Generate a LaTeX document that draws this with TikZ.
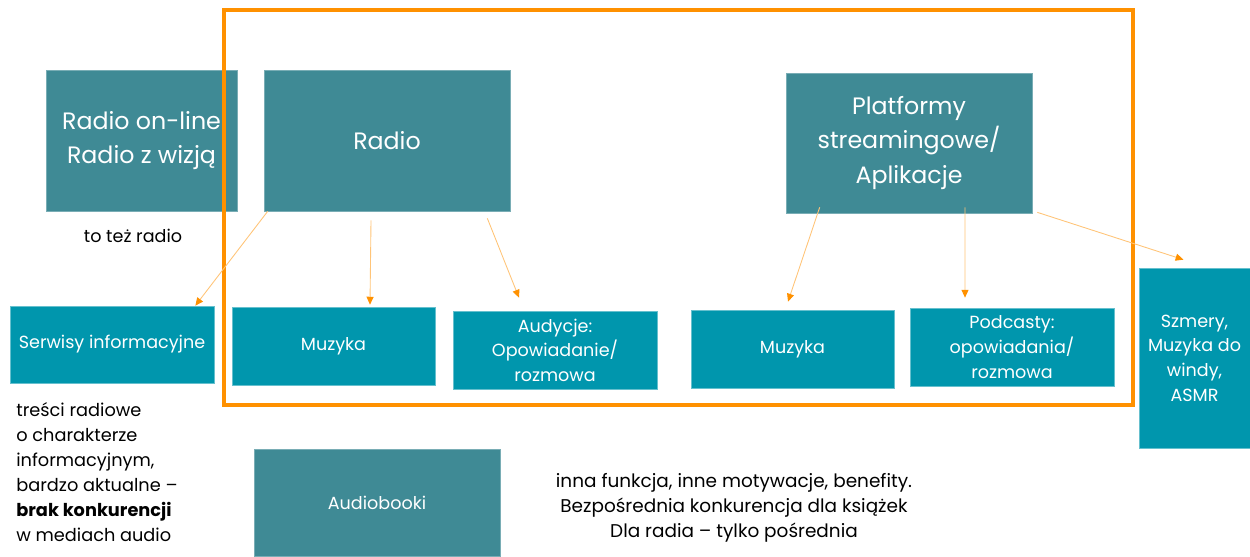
\documentclass[tikz,border=0pt]{standalone}
\usepackage{fontspec}
\setmainfont{Poppins}
\usepackage{tikz}
\usetikzlibrary{arrows.meta,positioning}
\definecolor{boxteal}{RGB}{63,138,149}
\definecolor{boxcyan}{RGB}{0,150,173}
\definecolor{frameorange}{RGB}{255,145,0}
\definecolor{arrlight}{RGB}{255,196,120}

\begin{document}
\begin{tikzpicture}[
      x=0.02cm, y=-0.02cm,
      topbox/.style={fill=boxteal, draw=boxteal!70!white, line width=0.4pt, text=white, align=center, font=\fontsize{13.5}{19.5}\selectfont, inner sep=2pt},
      subbox/.style={fill=boxcyan, draw=boxcyan!60!white, line width=0.4pt, text=white, align=center, font=\fontsize{10}{14}\selectfont, inner sep=2pt},
      note/.style={text=black, inner sep=0pt, font=\fontsize{10.1}{14.3}\selectfont},
      arr/.style={-{Triangle[length=4.5pt, width=4pt, color=frameorange]}, draw=arrlight, line width=0.5pt}
    ]
      \useasboundingbox (0,0) rectangle (1250,556);

      % upper row
      \node[topbox, minimum width=3.82cm, minimum height=2.82cm] (online) at (141.5,140.5) {Radio on-line\\Radio z wizją};
      \node[topbox, minimum width=4.92cm, minimum height=2.82cm] (radio) at (387,140.5) {Radio};
      \node[topbox, minimum width=4.92cm, minimum height=2.80cm] (platform) at (909,143) {Platformy\\streamingowe/\\Aplikacje};

      \node[note, font=\fontsize{10}{14}\selectfont] (tezradio) at (133,236) {to też radio};

      % lower row
      \node[subbox, minimum width=4.08cm, minimum height=1.54cm] (serwisy) at (112,344.5) {Serwisy informacyjne};
      \node[subbox, minimum width=4.06cm, minimum height=1.56cm] (muzyka) at (333.5,346) {Muzyka};
      \node[subbox, minimum width=4.08cm, minimum height=1.56cm] (audycje) at (555,350) {Audycje:\\Opowiadanie/\\rozmowa};
      \node[subbox, minimum width=4.06cm, minimum height=1.56cm] (muzykab) at (792.5,349) {Muzyka};
      \node[subbox, minimum width=4.08cm, minimum height=1.56cm] (podcasty) at (1012,347) {Podcasty:\\opowiadania/\\rozmowa};
      \node[subbox, minimum width=2.22cm, minimum height=3.6cm] (szmery) at (1194.5,358) {Szmery,\\Muzyka do\\windy,\\ASMR};

      \node[subbox, fill=boxteal, draw=boxteal!70!white, minimum width=4.92cm, minimum height=2.14cm] (audiobooki) at (377,502.5) {Audiobooki};

      % notes
      \node[note, anchor=west, align=left] (tresci) at (16,472) {treści radiowe\\o charakterze\\informacyjnym,\\bardzo aktualne –\\\textbf{brak konkurencji}\\w mediach audio};
      \node[note, font=\fontsize{10.5}{14.3}\selectfont, align=center] (inna) at (734,507.5) {inna funkcja, inne motywacje, benefity.\\Bezpośrednia konkurencja dla książek\\Dla radia – tylko pośrednia};

      % frame
      \draw[frameorange, line width=2.3pt] (224,10) rectangle (1133,405);

      \draw[arr] ([xshift=0.08cm]radio.south west) -- ([xshift=-0.38cm]serwisy.north east);
      \draw[arr] ([xshift=-0.32cm, yshift=-0.18cm]radio.south) -- ([xshift=0.73cm, yshift=0.04cm]muzyka.north);
      \draw[arr] ([xshift=-0.46cm, yshift=-0.14cm]radio.south east) -- ([xshift=-0.72cm, yshift=0.26cm]audycje.north);
      \draw[arr] ([xshift=0.68cm, yshift=0.12cm]platform.south west) -- ([xshift=-0.09cm, yshift=0.16cm]muzykab.north);
      \draw[arr] ([xshift=1.12cm, yshift=0.12cm]platform.south) -- ([xshift=-0.94cm, yshift=0.2cm]podcasty.north);
      \draw[arr] ([xshift=0.1cm, yshift=0.02cm]platform.south east) -- ([xshift=-0.22cm, yshift=0.16cm]szmery.north);
    \end{tikzpicture}
\end{document}
